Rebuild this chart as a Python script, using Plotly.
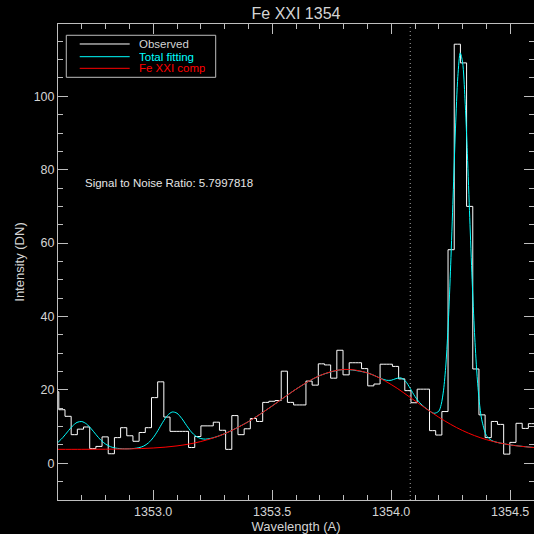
import plotly.graph_objects as go

# ---------------- data ----------------
# Observed spectrum: bin-centre wavelengths (Angstrom) and counts (DN)
obs_wavelength = [
    1352.5904, 1352.6164, 1352.6423, 1352.6683, 1352.6942, 1352.7202, 1352.7462, 1352.7721, 1352.7981, 1352.8240,
    1352.8500, 1352.8760, 1352.9019, 1352.9279, 1352.9538, 1352.9798, 1353.0058, 1353.0317, 1353.0577, 1353.0836,
    1353.1096, 1353.1356, 1353.1615, 1353.1875, 1353.2134, 1353.2394, 1353.2654, 1353.2913, 1353.3173, 1353.3432,
    1353.3692, 1353.3952, 1353.4211, 1353.4471, 1353.4730, 1353.4990, 1353.5250, 1353.5509, 1353.5769, 1353.6028,
    1353.6288, 1353.6548, 1353.6807, 1353.7067, 1353.7326, 1353.7586, 1353.7846, 1353.8105, 1353.8365, 1353.8624,
    1353.8884, 1353.9144, 1353.9403, 1353.9663, 1353.9922, 1354.0182, 1354.0442, 1354.0701, 1354.0961, 1354.1220,
    1354.1480, 1354.1740, 1354.1999, 1354.2259, 1354.2518, 1354.2778, 1354.3038, 1354.3297, 1354.3557, 1354.3816,
    1354.4076, 1354.4336, 1354.4595, 1354.4855, 1354.5114, 1354.5374, 1354.5634, 1354.5893, 1354.6153,
]
obs_intensity = [
    19.5, 14.6, 12.8, 7.8, 9.3, 9.9, 4.0, 4.6, 7.2, 2.6,
    7.0, 9.7, 7.5, 6.0, 8.4, 9.7, 17.9, 22.2, 12.6, 8.7,
    8.7, 8.7, 4.3, 7.3, 10.2, 10.2, 11.2, 9.0, 3.8, 13.0,
    7.8, 9.4, 12.2, 11.4, 16.6, 16.9, 17.1, 25.1, 16.6, 15.9,
    15.9, 22.4, 21.3, 27.1, 26.8, 23.2, 30.8, 24.1, 27.4, 27.4,
    25.8, 21.1, 21.6, 27.0, 27.0, 26.4, 23.0, 19.8, 16.5, 20.2,
    20.2, 8.9, 7.7, 14.1, 58.2, 114.2, 109.1, 70.0, 25.7, 13.2,
    7.0, 11.4, 10.6, 2.5, 5.7, 10.9, 9.5, 10.8, 10.8,
]

# Total fitting curve (cyan), read at sample wavelengths
fit_wavelength = [
    1352.60, 1352.62, 1352.64, 1352.66, 1352.68, 1352.70, 1352.72, 1352.74, 1352.76, 1352.78,
    1352.80, 1352.82, 1352.84, 1352.86, 1352.88, 1352.90, 1352.92, 1352.94, 1352.96, 1352.98,
    1353.00, 1353.02, 1353.04, 1353.06, 1353.08, 1353.10, 1353.12, 1353.14, 1353.16, 1353.18,
    1353.20, 1353.22, 1353.24, 1353.26, 1353.30, 1353.40, 1353.50, 1353.60, 1353.70, 1353.80,
    1353.90, 1353.94, 1353.96, 1353.98, 1354.00, 1354.02, 1354.04, 1354.06, 1354.08, 1354.10,
    1354.12, 1354.14, 1354.16, 1354.18, 1354.20, 1354.21, 1354.22, 1354.23, 1354.24, 1354.25,
    1354.26, 1354.27, 1354.28, 1354.29, 1354.30, 1354.31, 1354.32, 1354.33, 1354.34, 1354.35,
    1354.36, 1354.37, 1354.38, 1354.40, 1354.42, 1354.44, 1354.50, 1354.60,
]
fit_total = [
    5.70, 7.00, 8.57, 10.09, 11.15, 11.38, 10.71, 9.38, 7.79, 6.32,
    5.23, 4.54, 4.16, 4.00, 3.94, 3.96, 4.05, 4.25, 4.69, 5.56,
    6.98, 8.94, 11.17, 13.05, 13.98, 13.64, 12.22, 10.33, 8.57, 7.35,
    6.74, 6.59, 6.77, 7.11, 8.06, 11.35, 15.63, 20.20, 23.90, 25.57,
    24.64, 23.60, 23.04, 22.63, 22.63, 23.08, 23.29, 22.39, 20.40, 18.19,
    16.49, 15.28, 14.31, 13.62, 14.20, 16.00, 19.92, 27.05, 38.47, 54.10,
    72.54, 91.10, 105.36, 111.84, 109.22, 99.32, 84.33, 66.96, 50.10, 35.64,
    24.60, 16.90, 12.03, 7.59, 6.28, 5.79, 5.01, 4.29,
]

# Fe XXI component (red)
comp_wavelength = [
    1352.6, 1352.7, 1352.8, 1352.9, 1353.0, 1353.1, 1353.2, 1353.3, 1353.4, 1353.5,
    1353.6, 1353.7, 1353.8, 1353.9, 1354.0, 1354.1, 1354.2, 1354.3, 1354.4, 1354.5, 1354.6,
]
comp_fe21 = [
    3.80, 3.81, 3.84, 3.93, 4.17, 4.74, 5.93, 8.06, 11.35, 15.63,
    20.20, 23.90, 25.57, 24.64, 21.46, 17.02, 12.55, 8.92, 6.45, 5.01, 4.29,
]

FE_XXI_REST = 1354.08
x_range = [1352.6, 1354.6]
y_range = [-10, 119.7]
x_tickvals = [1353.0, 1353.5, 1354.0, 1354.5]
y_tickvals = [0, 20, 40, 60, 80, 100]
legend_names = ["Observed", "Total fitting", "Fe XXI comp"]
snr_label = "Signal to Noise Ratio: 5.7997818"
snr_pos = (1352.703, 76.3)

# ---------------- styling ----------------
AXIS = "#BEBEBE"
TEXT = "#D4D4D4"
OBS_C = "#FFFFFF"
FIT_C = "#00FFFF"
COMP_C = "#FF0000"
FONT = "Liberation Sans"

fig = go.Figure()
fig.add_trace(go.Scatter(x=obs_wavelength, y=obs_intensity, mode="lines",
                         line=dict(color=OBS_C, width=1, shape="hvh"),
                         name=legend_names[0], showlegend=False))
fig.add_trace(go.Scatter(x=fit_wavelength, y=fit_total, mode="lines",
                         line=dict(color=FIT_C, width=1, shape="spline", smoothing=0.8),
                         name=legend_names[1], showlegend=False))
fig.add_trace(go.Scatter(x=comp_wavelength, y=comp_fe21, mode="lines",
                         line=dict(color=COMP_C, width=1, shape="spline", smoothing=1),
                         name=legend_names[2], showlegend=False))

fig.add_vline(x=FE_XXI_REST, line=dict(color="#A8A8A8", width=1, dash="1px,3px"))

axis_common = dict(showline=True, linecolor=AXIS, linewidth=1, mirror="ticks",
                   ticks="inside", ticklen=10, tickwidth=1, tickcolor=AXIS,
                   showgrid=False, zeroline=False,
                   tickfont=dict(family=FONT, size=12.5, color=TEXT))
fig.update_xaxes(range=x_range, tickvals=x_tickvals, tickformat=".1f",
                 minor=dict(ticks="inside", ticklen=5, dtick=0.1, tick0=1353.0, tickcolor=AXIS),
                 title=dict(text="Wavelength (A)", font=dict(family=FONT, size=13, color=TEXT), standoff=4),
                 **axis_common)
fig.update_yaxes(range=y_range, tickvals=y_tickvals,
                 minor=dict(ticks="inside", ticklen=5, dtick=5, tick0=0, tickcolor=AXIS),
                 title=dict(text="Intensity (DN)", font=dict(family=FONT, size=13, color=TEXT), standoff=6),
                 **axis_common)

# hand-drawn legend box (paper coordinates of the 476x476 plot area)
fig.add_shape(type="rect", xref="paper", yref="paper", x0=0.0174, x1=0.3313, y0=0.888, y1=0.9763,
              line=dict(color=AXIS, width=1))
legend_cols = [OBS_C, FIT_C, COMP_C]
legend_text_cols = [TEXT, FIT_C, COMP_C]
legend_y = [0.958, 0.9313, 0.9069]
for name, lc, tc, yy in zip(legend_names, legend_cols, legend_text_cols, legend_y):
    fig.add_shape(type="line", xref="paper", yref="paper", x0=0.0456, x1=0.1506, y0=yy, y1=yy,
                  line=dict(color=lc, width=1))
    fig.add_annotation(xref="paper", yref="paper", x=0.1681, y=yy, text=name, showarrow=False,
                       xanchor="left", yanchor="middle", height=12, borderpad=0,
                       font=dict(family=FONT, size=11.5, color=tc))

fig.add_annotation(x=snr_pos[0], y=snr_pos[1], xref="x", yref="y", text=snr_label, showarrow=False,
                   xanchor="left", yanchor="middle", font=dict(family=FONT, size=11.5, color="#E6E6E6"))

fig.update_layout(
    width=534, height=534,
    margin=dict(l=58, r=0, t=24, b=34),
    paper_bgcolor="black", plot_bgcolor="black",
    title=dict(text="Fe XXI 1354", x=0.5, xref="paper", y=1 - 13 / 534, yanchor="middle",
               font=dict(family=FONT, size=16, color=TEXT)),
    showlegend=False,
)

fig.write_html("out.html", config={"displayModeBar": False},
               post_script="document.body.style.margin='0px';document.body.style.overflow='hidden';")
